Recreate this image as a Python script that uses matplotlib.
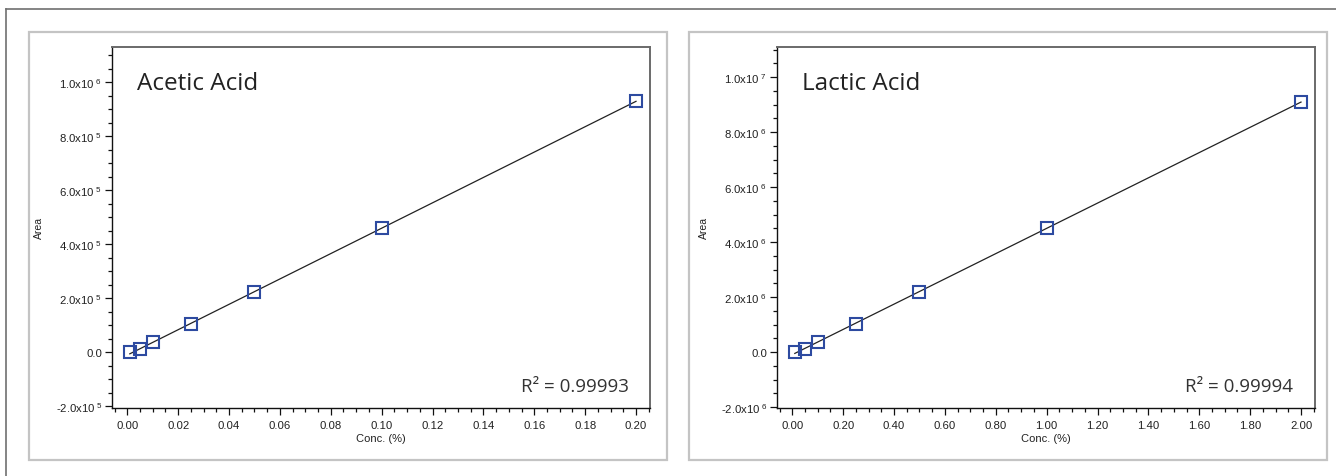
import numpy as np
import matplotlib.pyplot as plt
from matplotlib.ticker import FuncFormatter, MultipleLocator
from matplotlib.patches import Rectangle
from matplotlib.lines import Line2D

plt.rcParams['font.family'] = ['Liberation Sans', 'DejaVu Sans']
plt.rcParams['mathtext.default'] = 'regular'

# 数据
acetic_conc = [0.001, 0.005, 0.01, 0.025, 0.05, 0.10, 0.20]
acetic_area = [0.0, 1.2e4, 3.7e4, 1.05e5, 2.23e5, 4.59e5, 9.31e5]
acetic_r2 = "R² = 0.99993"

lactic_conc = [0.01, 0.05, 0.10, 0.25, 0.50, 1.00, 2.00]
lactic_area = [0.0, 1.2e5, 3.6e5, 1.03e6, 2.2e6, 4.53e6, 9.09e6]
lactic_r2 = "R² = 0.99994"

W, H = 1336, 477
fig = plt.figure(figsize=(W / 100, H / 100), dpi=100)


def fx(px):
    return px / W


def fy(py):
    return 1 - py / H


# 外框与面板框
fig.add_artist(Line2D([fx(6), 1], [fy(9.5), fy(9.5)], color="#707070", lw=1.2))
fig.add_artist(Line2D([fx(6), fx(6)], [fy(9.5), 0], color="#707070", lw=1.2))
for x0, x1 in [(29, 667), (689, 1327)]:
    fig.add_artist(Rectangle((fx(x0), fy(461)), fx(x1 - x0), (461 - 33) / H,
                             fill=False, edgecolor="#c4c4c4", lw=1.6))


def sci_fmt(v, pos):
    if abs(v) < 1e-12:
        return "0.0"
    e = int(np.floor(np.log10(abs(v)) + 1e-9))
    m = v / 10 ** e
    return "%.1fx10$^{\\ %d}$" % (m, e)


def panel(rect, conc, area, title, r2, xlim, ylim, xmaj, xmin_, ymaj, ymin_):
    ax = fig.add_axes(rect)
    conc = np.array(conc)
    area = np.array(area)
    k, b = np.polyfit(conc, area, 1)
    xs = np.array([conc.min(), conc.max()])
    ax.plot(xs, k * xs + b, color="#222222", lw=0.9, zorder=2)
    ax.plot(conc, area, linestyle="none", marker="s", markersize=8,
            markerfacecolor="none", markeredgecolor="#2d4aa0",
            markeredgewidth=1.5, zorder=3)
    ax.set_xlim(*xlim)
    ax.set_ylim(*ylim)
    ax.xaxis.set_major_locator(MultipleLocator(xmaj))
    ax.xaxis.set_minor_locator(MultipleLocator(xmin_))
    ax.yaxis.set_major_locator(MultipleLocator(ymaj))
    ax.yaxis.set_minor_locator(MultipleLocator(ymin_))
    ax.xaxis.set_major_formatter(FuncFormatter(lambda v, p: "%.2f" % v))
    ax.yaxis.set_major_formatter(FuncFormatter(sci_fmt))
    ax.tick_params(which="major", length=5, width=0.9, labelsize=8.2,
                   color="#111111", labelcolor="#222222", pad=2)
    ax.tick_params(axis="x", which="major", pad=4)
    ax.tick_params(which="minor", length=3, width=0.9, color="#111111")
    for s in ["left", "bottom"]:
        ax.spines[s].set_color("#111111")
        ax.spines[s].set_linewidth(1.0)
    for s in ["top", "right"]:
        ax.spines[s].set_color("#6a6a6a")
        ax.spines[s].set_linewidth(1.4)
    ax.set_xlabel("Conc. (%)", fontsize=8, color="#222222", labelpad=2)
    ax.set_ylabel("Area", fontsize=7.5, color="#222222", labelpad=8)
    ax.text(0.046, 0.90, title, transform=ax.transAxes, fontsize=17.5,
            family=["Open Sans", "DejaVu Sans"], color="#222222",
            va="center", ha="left")
    ax.text(0.96, 0.062, r2, transform=ax.transAxes, fontsize=13.5,
            family=["Open Sans", "DejaVu Sans"], color="#333333",
            va="center", ha="right")
    return ax


ax_h = (409 - 48) / H
ax_w = (650 - 112) / W
panel([fx(112), fy(409), ax_w, ax_h], acetic_conc, acetic_area,
      "Acetic Acid", acetic_r2, (-0.006, 0.2055), (-2.06e5, 1.131e6),
      0.02, 0.005, 2e5, 5e4)
panel([fx(777), fy(409), ax_w, ax_h], lactic_conc, lactic_area,
      "Lactic Acid", lactic_r2, (-0.06, 2.055), (-2.03e6, 1.11e7),
      0.2, 0.05, 2e6, 5e5)

fig.savefig("out.png", dpi=100)
